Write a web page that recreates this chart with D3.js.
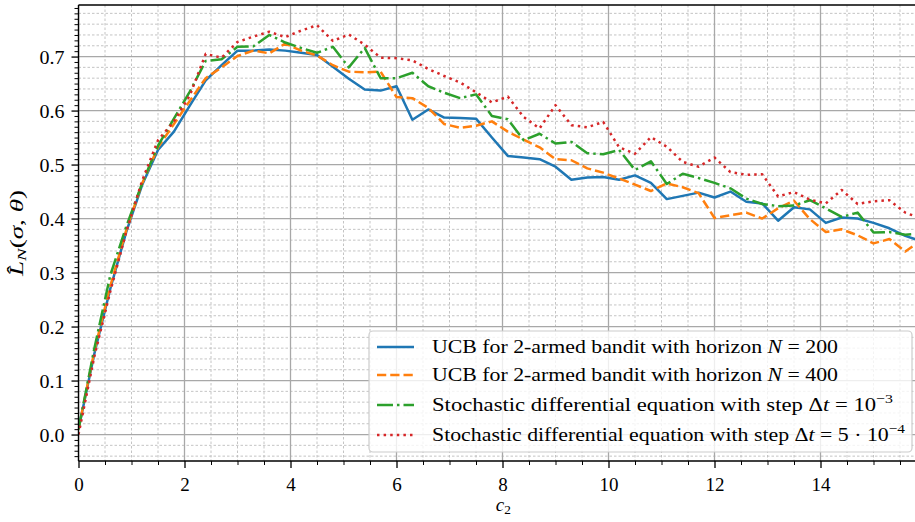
<!DOCTYPE html>
<html><head><meta charset="utf-8">
<script src="https://cdn.jsdelivr.net/npm/d3@7"></script>
<style>
body{margin:0;background:#fff}
svg{display:block}
text{font-family:"Liberation Serif","DejaVu Serif",serif;fill:#000}
</style>
</head><body><svg id="chart" width="915" height="522"></svg>
<script>
// ---------- data ----------
const c2 = [0.0,0.3,0.6,0.9,1.2,1.5,1.8,2.1,2.4,2.7,3.0,3.3,3.6,3.9,4.2,4.5,4.8,5.1,5.4,5.7,
  6.0,6.3,6.6,6.9,7.2,7.5,7.8,8.1,8.4,8.7,9.0,9.3,9.6,9.9,10.2,10.5,10.8,11.1,11.4,11.7,
  12.0,12.3,12.6,12.9,13.2,13.5,13.8,14.1,14.4,14.7,15.0,15.3,15.6,15.9];
const ucbN200 = [0.010,0.150,0.270,0.375,0.462,0.527,0.561,0.609,0.656,0.684,0.711,0.711,0.713,0.711,0.707,0.703,0.681,0.659,0.639,0.637,
  0.645,0.583,0.602,0.587,0.586,0.585,0.550,0.516,0.513,0.510,0.496,0.472,0.476,0.477,0.472,0.480,0.466,0.436,0.442,0.448,
  0.439,0.450,0.431,0.428,0.396,0.421,0.417,0.392,0.402,0.400,0.392,0.382,0.368,0.358];
const ucbN400 = [0.010,0.155,0.275,0.378,0.465,0.532,0.575,0.618,0.660,0.680,0.701,0.711,0.706,0.724,0.711,0.702,0.684,0.672,0.671,0.672,
  0.625,0.623,0.605,0.575,0.568,0.572,0.580,0.561,0.546,0.532,0.510,0.508,0.493,0.485,0.474,0.463,0.451,0.465,0.458,0.447,
  0.401,0.406,0.411,0.400,0.419,0.433,0.399,0.375,0.380,0.369,0.354,0.362,0.339,0.360];
const sdeStep1e3 = [0.010,0.160,0.295,0.385,0.465,0.535,0.585,0.635,0.692,0.695,0.718,0.719,0.740,0.726,0.716,0.707,0.718,0.680,0.716,0.660,
  0.660,0.670,0.645,0.633,0.623,0.630,0.590,0.584,0.545,0.557,0.539,0.542,0.521,0.519,0.527,0.490,0.506,0.464,0.483,0.475,
  0.466,0.456,0.437,0.427,0.423,0.424,0.434,0.419,0.403,0.411,0.374,0.375,0.370,0.372];
const sdeStep5e4 = [0.000,0.145,0.265,0.375,0.470,0.545,0.580,0.628,0.705,0.698,0.727,0.737,0.746,0.736,0.748,0.758,0.729,0.741,0.722,0.698,
  0.697,0.693,0.677,0.664,0.652,0.634,0.615,0.626,0.588,0.567,0.610,0.573,0.569,0.579,0.532,0.520,0.551,0.533,0.505,0.496,
  0.513,0.486,0.481,0.482,0.441,0.449,0.435,0.428,0.453,0.427,0.432,0.434,0.411,0.400];

const xTickValues = [0,2,4,6,8,10,12,14];
const xTickLabels = ["0","2","4","6","8","10","12","14"];
const yTickValues = [0.0,0.1,0.2,0.3,0.4,0.5,0.6,0.7];
const yTickLabels = ["0.0","0.1","0.2","0.3","0.4","0.5","0.6","0.7"];

// legend labels as text segments (i = italic, sup = superscript)
const seriesLabels = [
  [{t:"UCB for 2-armed bandit with horizon "},{t:"N",i:1},{t:" = 200"}],
  [{t:"UCB for 2-armed bandit with horizon "},{t:"N",i:1},{t:" = 400"}],
  [{t:"Stochastic differential equation with step Δ"},{t:"t",i:1},{t:" = 10"},{t:"−3",sup:1}],
  [{t:"Stochastic differential equation with step Δ"},{t:"t",i:1},{t:" = 5 · 10"},{t:"−4",sup:1}]
];

// ---------- setup ----------
const series = [ucbN200, ucbN400, sdeStep1e3, sdeStep5e4];
const colors = ["#1f77b4","#ff7f0e","#2ca02c","#d62728"];
const dashes = [null, "9.25,4", "16,4,2.5,4", "2.5,4.1"];
const FS = 19;

const svg = d3.select("#chart");
const L = 78.5, R = 921.2, T = 5, B = 461;
const x = d3.scaleLinear().domain([0, 15.9]).range([L, R]);
const y = d3.scaleLinear().domain([-0.049, 0.7955]).range([B, T]);

svg.append("rect").attr("width",915).attr("height",522).attr("fill","#fff");
svg.append("defs").append("clipPath").attr("id","clip")
  .append("rect").attr("x",L).attr("y",T).attr("width",R-L).attr("height",B-T);

// grid
const g = svg.append("g").attr("clip-path","url(#clip)");
const xMinor = d3.range(0.5, 16, 0.5).filter(v => v % 2 !== 0);
const yMinor = d3.range(-0.04, 0.80, 0.02).filter(v => Math.abs(Math.round(v*10)-v*10) > 1e-6);
g.selectAll(".xm").data(xMinor).enter().append("line")
  .attr("x1",d=>x(d)).attr("x2",d=>x(d)).attr("y1",T).attr("y2",B)
  .attr("stroke","#bdbdbd").attr("stroke-width",0.9).attr("stroke-dasharray","2.5,2");
g.selectAll(".ym").data(yMinor).enter().append("line")
  .attr("x1",L).attr("x2",R).attr("y1",d=>y(d)).attr("y2",d=>y(d))
  .attr("stroke","#bdbdbd").attr("stroke-width",0.9).attr("stroke-dasharray","2.5,2");
g.selectAll(".xM").data(xTickValues).enter().append("line")
  .attr("x1",d=>x(d)).attr("x2",d=>x(d)).attr("y1",T).attr("y2",B)
  .attr("stroke","#a8a8a8").attr("stroke-width",1.3);
g.selectAll(".yM").data(yTickValues).enter().append("line")
  .attr("x1",L).attr("x2",R).attr("y1",d=>y(d)).attr("y2",d=>y(d))
  .attr("stroke","#a8a8a8").attr("stroke-width",1.3);

// lines
const line = d3.line().x((d,i)=>x(c2[i])).y(d=>y(d));
series.forEach((s,k)=>{
  g.append("path").datum(s).attr("d",line).attr("fill","none")
    .attr("stroke",colors[k]).attr("stroke-width",2.5)
    .attr("stroke-linejoin","round")
    .attr("stroke-dasharray",dashes[k]);
});

// axes
const ax = svg.append("g").attr("transform",`translate(0,${B})`)
  .call(d3.axisBottom(x).tickValues(xTickValues).tickFormat((d,i)=>xTickLabels[i]).tickSize(7).tickPadding(10));
const axm = svg.append("g").attr("transform",`translate(0,${B})`)
  .call(d3.axisBottom(x).tickValues(xMinor).tickFormat("").tickSize(4));
const ay = svg.append("g").attr("transform",`translate(${L},0)`)
  .call(d3.axisLeft(y).tickValues(yTickValues).tickFormat((d,i)=>yTickLabels[i]).tickSize(7).tickPadding(7));
const aym = svg.append("g").attr("transform",`translate(${L},0)`)
  .call(d3.axisLeft(y).tickValues(d3.range(-0.04,0.80,0.01).filter(v=>Math.abs(Math.round(v*10)-v*10)>1e-6)).tickFormat("").tickSize(4));
[ax,axm,ay,aym].forEach(a=>{
  a.select(".domain").remove();
  a.selectAll("text").attr("font-size",FS).attr("font-family",'"Liberation Serif",serif').attr("fill","#000");
});
[ax,ay].forEach(a=>a.selectAll("line").attr("stroke","#000").attr("stroke-width",1.3));
[axm,aym].forEach(a=>a.selectAll("line").attr("stroke","#000").attr("stroke-width",1));
ay.selectAll("text").attr("dy","0.34em").attr("textLength",25).attr("lengthAdjust","spacingAndGlyphs");
ax.selectAll("text").attr("dy","0.7em");

// spines
[[L,L,T,B],[L,R,B,B],[L,R,T,T],[R,R,T,B]].forEach(([x1,x2,y1,y2])=>
  svg.append("line").attr("x1",x1).attr("x2",x2).attr("y1",y1).attr("y2",y2).attr("stroke","#000").attr("stroke-width",1.4));

// axis labels
const xl = svg.append("text").attr("x",(L+R)/2 - 4).attr("y",511).attr("font-size",FS);
xl.append("tspan").attr("font-style","italic").text("c");
xl.append("tspan").attr("font-size",FS*0.7).attr("dy",3).text("2");

const yl = svg.append("text").attr("transform",`translate(23,${(T+B)/2}) rotate(-90)`)
  .attr("text-anchor","middle").attr("font-size",FS)
  .attr("textLength",86).attr("lengthAdjust","spacingAndGlyphs");
yl.append("tspan").attr("font-style","italic").text("L\u0302");
yl.append("tspan").attr("font-style","italic").attr("font-size",FS*0.7).attr("dy",3).text("N");
yl.append("tspan").attr("dy",-3).text("(");
yl.append("tspan").attr("font-style","italic").text("σ");
yl.append("tspan").text(", ");
yl.append("tspan").attr("font-style","italic").text("θ");
yl.append("tspan").text(")");

// legend
const lg = svg.append("g");
const lgL = 369, lgT = 331, lgR = 912, lgB = 452;
lg.append("rect").attr("x",lgL).attr("y",lgT).attr("width",lgR-lgL).attr("height",lgB-lgT)
  .attr("rx",4).attr("fill","#fff").attr("fill-opacity",0.8).attr("stroke","#cccccc").attr("stroke-width",1.2);
const rowY = [347, 375, 405, 435];
const rowW = [406, 406, 461, 473];
seriesLabels.forEach((segs,k)=>{
  lg.append("line").attr("x1",377).attr("x2",414).attr("y1",rowY[k]).attr("y2",rowY[k])
    .attr("stroke",colors[k]).attr("stroke-width",2.5).attr("stroke-dasharray",dashes[k]);
  const t = lg.append("text").attr("x",432).attr("y",rowY[k]).attr("dy","0.34em").attr("font-size",FS)
    .attr("textLength",rowW[k]).attr("lengthAdjust","spacingAndGlyphs");
  segs.forEach(s=>{
    const sp = t.append("tspan").text(s.t);
    if (s.i) sp.attr("font-style","italic");
    if (s.sup) sp.attr("font-size",FS*0.7).attr("dy",-8);
  });
});
</script>
</body></html>
